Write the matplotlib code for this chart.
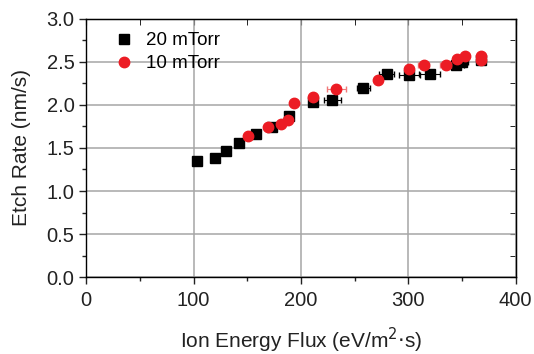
import matplotlib.pyplot as plt
from matplotlib.ticker import MultipleLocator

plt.rcParams['font.family'] = ['Liberation Sans', 'DejaVu Sans']

# 20 mTorr
flux20 = [103, 120, 130, 142, 158, 173, 189, 211, 229, 258, 280, 301, 320, 344, 350, 368]
rate20 = [1.35, 1.38, 1.46, 1.56, 1.66, 1.74, 1.87, 2.03, 2.05, 2.19, 2.36, 2.34, 2.36, 2.46, 2.50, 2.52]
xerr20 = [1, 1, 1, 1, 2, 2, 2, 2, 8, 6, 7, 10, 10, 8, 6, 3]
yerr20 = [0.02] * 16
# 10 mTorr
flux10 = [151, 169, 181, 188, 193.5, 211, 233, 272, 301, 314.5, 335, 345, 353, 368, 368]
rate10 = [1.64, 1.74, 1.78, 1.82, 2.02, 2.09, 2.18, 2.29, 2.41, 2.46, 2.46, 2.53, 2.56, 2.56, 2.52]
xerr10 = [2, 2, 2, 2, 2, 2, 9, 3, 3, 5, 5, 3, 3, 3, 3]
yerr10 = [0.03] * 15

fig = plt.figure(figsize=(5.34, 3.54), dpi=100)
ax = fig.add_axes([0.1616, 0.2167, 0.804, 0.731])

ax.errorbar(flux20, rate20, xerr=xerr20, yerr=yerr20, fmt='s', color='black',
            ecolor='black', ms=7, elinewidth=0.8, capsize=2, label='20 mTorr', zorder=3)
ax.errorbar(flux10, rate10, xerr=xerr10, yerr=yerr10, fmt='o', color='#ec1c24',
            ecolor='#f07a7a', ms=7.5, elinewidth=0.8, capsize=2, label='10 mTorr', zorder=4)

ax.set_xlim(0, 400)
ax.set_ylim(0, 3.0)
ax.xaxis.set_major_locator(MultipleLocator(100))
ax.xaxis.set_minor_locator(MultipleLocator(50))
ax.yaxis.set_major_locator(MultipleLocator(0.5))
ax.yaxis.set_minor_locator(MultipleLocator(0.25))
ax.yaxis.set_major_formatter(plt.FormatStrFormatter('%.1f'))
ax.grid(True, which='major', color='#a6a6a6', lw=1.1)
ax.set_axisbelow(True)
ax.tick_params(which='both', direction='out', labelsize=14.5, width=1, colors='#222222')
ax.tick_params(axis='x', which='major', pad=5)
ax.tick_params(which='major', length=5)
ax.tick_params(which='minor', length=3)

# inward ticks on top and right
top = ax.secondary_xaxis('top')
top.set_xticks([0, 100, 200, 300, 400], labels=[])
top.xaxis.set_minor_locator(MultipleLocator(50))
top.tick_params(which='both', direction='in', length=4)
right = ax.secondary_yaxis('right')
right.set_yticks([0, 0.5, 1.0, 1.5, 2.0, 2.5, 3.0], labels=[])
right.yaxis.set_minor_locator(MultipleLocator(0.25))
right.tick_params(which='both', direction='in', length=4)

for s in ax.spines.values():
    s.set_linewidth(1)

ax.set_xlabel('Ion Energy Flux (eV/m$^2$$\\cdot$s)', fontsize=15, labelpad=11, color='#222222')
ax.set_ylabel('Etch Rate (nm/s)', fontsize=15, labelpad=11, color='#222222')

handles, labels = ax.get_legend_handles_labels()
handles = [h[0] for h in handles]
ax.legend(handles, labels, loc='upper left', frameon=False, fontsize=13.5,
          bbox_to_anchor=(0.022, 1.012), handletextpad=0.6, labelspacing=0.3,
          handlelength=1.2)

plt.savefig('out.png', dpi=100)
